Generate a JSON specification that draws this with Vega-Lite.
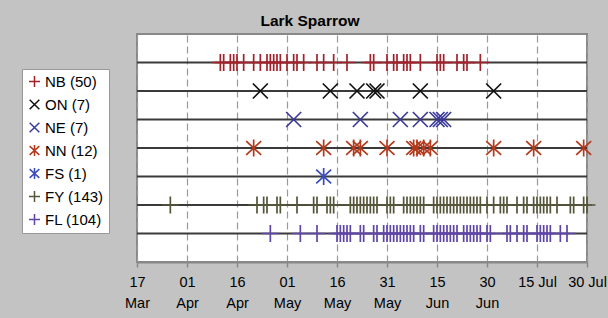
{
  "$schema": "https://vega.github.io/schema/vega-lite/v6.json",
  "width": 450,
  "height": 228,
  "autosize": {"type": "none"},
  "padding": {"left": 137, "top": 34, "right": 21, "bottom": 56},
  "background": "#c3c3c3",
  "title": {"text": "Lark Sparrow", "fontSize": 15.5, "fontWeight": "bold", "font": "Liberation Sans", "color": "black", "anchor": "middle", "dx": -52, "offset": 5},
  "config": {
    "font": "Liberation Sans",
    "view": {"stroke": "#888", "strokeWidth": 2, "fill": "white"}
  },
  "datasets": {
    "rows": [
      {"series": "NB (50)"}, {"series": "ON (7)"}, {"series": "NE (7)"}, {"series": "NN (12)"},
      {"series": "FS (1)"}, {"series": "FY (143)"}, {"series": "FL (104)"}
    ],
    "obs": [
      {"series": "NB (50)", "date": "2019-04-11"}, {"series": "NB (50)", "date": "2019-04-12"}, {"series": "NB (50)", "date": "2019-04-14"}, {"series": "NB (50)", "date": "2019-04-15"}, {"series": "NB (50)", "date": "2019-04-16"}, {"series": "NB (50)", "date": "2019-04-18"}, {"series": "NB (50)", "date": "2019-04-21"}, {"series": "NB (50)", "date": "2019-04-23"}, {"series": "NB (50)", "date": "2019-04-25"}, {"series": "NB (50)", "date": "2019-04-26"}, {"series": "NB (50)", "date": "2019-04-27"}, {"series": "NB (50)", "date": "2019-04-28"}, {"series": "NB (50)", "date": "2019-04-29"}, {"series": "NB (50)", "date": "2019-05-01"}, {"series": "NB (50)", "date": "2019-05-03"}, {"series": "NB (50)", "date": "2019-05-04"}, {"series": "NB (50)", "date": "2019-05-06"}, {"series": "NB (50)", "date": "2019-05-10"}, {"series": "NB (50)", "date": "2019-05-12"}, {"series": "NB (50)", "date": "2019-05-15"}, {"series": "NB (50)", "date": "2019-05-19"}, {"series": "NB (50)", "date": "2019-05-26"}, {"series": "NB (50)", "date": "2019-05-27"}, {"series": "NB (50)", "date": "2019-05-31"}, {"series": "NB (50)", "date": "2019-06-02"}, {"series": "NB (50)", "date": "2019-06-03"}, {"series": "NB (50)", "date": "2019-06-05"}, {"series": "NB (50)", "date": "2019-06-06"}, {"series": "NB (50)", "date": "2019-06-07"}, {"series": "NB (50)", "date": "2019-06-10"}, {"series": "NB (50)", "date": "2019-06-15"}, {"series": "NB (50)", "date": "2019-06-16"}, {"series": "NB (50)", "date": "2019-06-17"}, {"series": "NB (50)", "date": "2019-06-21"}, {"series": "NB (50)", "date": "2019-06-23"}, {"series": "NB (50)", "date": "2019-06-24"}, {"series": "NB (50)", "date": "2019-06-28"},
      {"series": "ON (7)", "date": "2019-04-23"}, {"series": "ON (7)", "date": "2019-05-14"}, {"series": "ON (7)", "date": "2019-05-22"}, {"series": "ON (7)", "date": "2019-05-27"}, {"series": "ON (7)", "date": "2019-05-28"}, {"series": "ON (7)", "date": "2019-06-10"}, {"series": "ON (7)", "date": "2019-07-02"},
      {"series": "NE (7)", "date": "2019-05-03"}, {"series": "NE (7)", "date": "2019-05-23"}, {"series": "NE (7)", "date": "2019-06-04"}, {"series": "NE (7)", "date": "2019-06-10"}, {"series": "NE (7)", "date": "2019-06-15"}, {"series": "NE (7)", "date": "2019-06-16"}, {"series": "NE (7)", "date": "2019-06-17"},
      {"series": "NN (12)", "date": "2019-04-21"}, {"series": "NN (12)", "date": "2019-05-12"}, {"series": "NN (12)", "date": "2019-05-21"}, {"series": "NN (12)", "date": "2019-05-23"}, {"series": "NN (12)", "date": "2019-05-31"}, {"series": "NN (12)", "date": "2019-06-08"}, {"series": "NN (12)", "date": "2019-06-09"}, {"series": "NN (12)", "date": "2019-06-11"}, {"series": "NN (12)", "date": "2019-06-13"}, {"series": "NN (12)", "date": "2019-07-02"}, {"series": "NN (12)", "date": "2019-07-14"}, {"series": "NN (12)", "date": "2019-07-29"},
      {"series": "FS (1)", "date": "2019-05-12"},
      {"series": "FY (143)", "date": "2019-03-27"}, {"series": "FY (143)", "date": "2019-04-22"}, {"series": "FY (143)", "date": "2019-04-24"}, {"series": "FY (143)", "date": "2019-04-25"}, {"series": "FY (143)", "date": "2019-04-28"}, {"series": "FY (143)", "date": "2019-04-29"}, {"series": "FY (143)", "date": "2019-05-04"}, {"series": "FY (143)", "date": "2019-05-09"}, {"series": "FY (143)", "date": "2019-05-10"}, {"series": "FY (143)", "date": "2019-05-13"}, {"series": "FY (143)", "date": "2019-05-14"}, {"series": "FY (143)", "date": "2019-05-15"}, {"series": "FY (143)", "date": "2019-05-20"}, {"series": "FY (143)", "date": "2019-05-21"}, {"series": "FY (143)", "date": "2019-05-22"}, {"series": "FY (143)", "date": "2019-05-23"}, {"series": "FY (143)", "date": "2019-05-24"}, {"series": "FY (143)", "date": "2019-05-25"}, {"series": "FY (143)", "date": "2019-05-26"}, {"series": "FY (143)", "date": "2019-05-27"}, {"series": "FY (143)", "date": "2019-05-28"}, {"series": "FY (143)", "date": "2019-05-31"}, {"series": "FY (143)", "date": "2019-06-01"}, {"series": "FY (143)", "date": "2019-06-02"}, {"series": "FY (143)", "date": "2019-06-05"}, {"series": "FY (143)", "date": "2019-06-06"}, {"series": "FY (143)", "date": "2019-06-07"}, {"series": "FY (143)", "date": "2019-06-08"}, {"series": "FY (143)", "date": "2019-06-09"}, {"series": "FY (143)", "date": "2019-06-10"}, {"series": "FY (143)", "date": "2019-06-11"}, {"series": "FY (143)", "date": "2019-06-14"}, {"series": "FY (143)", "date": "2019-06-15"}, {"series": "FY (143)", "date": "2019-06-16"}, {"series": "FY (143)", "date": "2019-06-17"}, {"series": "FY (143)", "date": "2019-06-18"}, {"series": "FY (143)", "date": "2019-06-19"}, {"series": "FY (143)", "date": "2019-06-20"}, {"series": "FY (143)", "date": "2019-06-21"}, {"series": "FY (143)", "date": "2019-06-22"}, {"series": "FY (143)", "date": "2019-06-23"}, {"series": "FY (143)", "date": "2019-06-24"}, {"series": "FY (143)", "date": "2019-06-25"}, {"series": "FY (143)", "date": "2019-06-26"}, {"series": "FY (143)", "date": "2019-06-27"}, {"series": "FY (143)", "date": "2019-06-28"}, {"series": "FY (143)", "date": "2019-06-30"}, {"series": "FY (143)", "date": "2019-07-02"}, {"series": "FY (143)", "date": "2019-07-04"}, {"series": "FY (143)", "date": "2019-07-05"}, {"series": "FY (143)", "date": "2019-07-06"}, {"series": "FY (143)", "date": "2019-07-09"}, {"series": "FY (143)", "date": "2019-07-11"}, {"series": "FY (143)", "date": "2019-07-12"}, {"series": "FY (143)", "date": "2019-07-14"}, {"series": "FY (143)", "date": "2019-07-15"}, {"series": "FY (143)", "date": "2019-07-16"}, {"series": "FY (143)", "date": "2019-07-17"}, {"series": "FY (143)", "date": "2019-07-18"}, {"series": "FY (143)", "date": "2019-07-19"}, {"series": "FY (143)", "date": "2019-07-21"}, {"series": "FY (143)", "date": "2019-07-25"}, {"series": "FY (143)", "date": "2019-07-26"}, {"series": "FY (143)", "date": "2019-07-29"}, {"series": "FY (143)", "date": "2019-07-30"},
      {"series": "FL (104)", "date": "2019-04-26"}, {"series": "FL (104)", "date": "2019-05-05"}, {"series": "FL (104)", "date": "2019-05-10"}, {"series": "FL (104)", "date": "2019-05-16"}, {"series": "FL (104)", "date": "2019-05-17"}, {"series": "FL (104)", "date": "2019-05-18"}, {"series": "FL (104)", "date": "2019-05-19"}, {"series": "FL (104)", "date": "2019-05-20"}, {"series": "FL (104)", "date": "2019-05-23"}, {"series": "FL (104)", "date": "2019-05-24"}, {"series": "FL (104)", "date": "2019-05-27"}, {"series": "FL (104)", "date": "2019-05-28"}, {"series": "FL (104)", "date": "2019-05-30"}, {"series": "FL (104)", "date": "2019-05-31"}, {"series": "FL (104)", "date": "2019-06-01"}, {"series": "FL (104)", "date": "2019-06-02"}, {"series": "FL (104)", "date": "2019-06-03"}, {"series": "FL (104)", "date": "2019-06-04"}, {"series": "FL (104)", "date": "2019-06-05"}, {"series": "FL (104)", "date": "2019-06-06"}, {"series": "FL (104)", "date": "2019-06-07"}, {"series": "FL (104)", "date": "2019-06-08"}, {"series": "FL (104)", "date": "2019-06-10"}, {"series": "FL (104)", "date": "2019-06-11"}, {"series": "FL (104)", "date": "2019-06-14"}, {"series": "FL (104)", "date": "2019-06-15"}, {"series": "FL (104)", "date": "2019-06-16"}, {"series": "FL (104)", "date": "2019-06-17"}, {"series": "FL (104)", "date": "2019-06-18"}, {"series": "FL (104)", "date": "2019-06-19"}, {"series": "FL (104)", "date": "2019-06-20"}, {"series": "FL (104)", "date": "2019-06-21"}, {"series": "FL (104)", "date": "2019-06-23"}, {"series": "FL (104)", "date": "2019-06-24"}, {"series": "FL (104)", "date": "2019-06-25"}, {"series": "FL (104)", "date": "2019-06-26"}, {"series": "FL (104)", "date": "2019-06-27"}, {"series": "FL (104)", "date": "2019-06-28"}, {"series": "FL (104)", "date": "2019-06-30"}, {"series": "FL (104)", "date": "2019-07-01"}, {"series": "FL (104)", "date": "2019-07-06"}, {"series": "FL (104)", "date": "2019-07-07"}, {"series": "FL (104)", "date": "2019-07-09"}, {"series": "FL (104)", "date": "2019-07-11"}, {"series": "FL (104)", "date": "2019-07-12"}, {"series": "FL (104)", "date": "2019-07-15"}, {"series": "FL (104)", "date": "2019-07-16"}, {"series": "FL (104)", "date": "2019-07-17"}, {"series": "FL (104)", "date": "2019-07-18"}, {"series": "FL (104)", "date": "2019-07-19"}, {"series": "FL (104)", "date": "2019-07-22"}, {"series": "FL (104)", "date": "2019-07-24"}
    ]
  },
  "layer": [
    {
      "data": {"name": "rows"},
      "mark": {"type": "rule", "color": "#3a3a3a", "strokeWidth": 2},
      "encoding": {
        "y": {"field": "series", "type": "nominal", "axis": null,
              "scale": {"type": "point", "padding": 1, "domain": ["NB (50)", "ON (7)", "NE (7)", "NN (12)", "FS (1)", "FY (143)", "FL (104)"]}}
      }
    },
    {
      "data": {"name": "obs"},
      "mark": {"type": "point", "filled": false, "strokeWidth": 1.7, "size": 289, "opacity": 1},
      "encoding": {
        "x": {"field": "date", "type": "temporal",
              "scale": {"type": "utc", "domain": [{"year": 2019, "month": 3, "date": 17, "utc": true}, {"year": 2019, "month": 7, "date": 30, "utc": true}]},
              "axis": {"title": null,
                       "values": [{"year": 2019, "month": 3, "date": 17, "utc": true}, {"year": 2019, "month": 4, "date": 1, "utc": true}, {"year": 2019, "month": 4, "date": 16, "utc": true}, {"year": 2019, "month": 5, "date": 1, "utc": true}, {"year": 2019, "month": 5, "date": 16, "utc": true}, {"year": 2019, "month": 5, "date": 31, "utc": true}, {"year": 2019, "month": 6, "date": 15, "utc": true}, {"year": 2019, "month": 6, "date": 30, "utc": true}, {"year": 2019, "month": 7, "date": 15, "utc": true}, {"year": 2019, "month": 7, "date": 30, "utc": true}],
                       "labelExpr": "utcFormat(datum.value, '%b') == 'Jul' ? utcFormat(datum.value, '%d %b') : [utcFormat(datum.value, '%d'), utcFormat(datum.value, '%b')]",
                       "labelFontSize": 14.5, "labelColor": "black", "labelFlush": false, "labelOverlap": false, "labelBound": false,
                       "labelPadding": 8, "labelLineHeight": 21,
                       "tickColor": "#888", "tickSize": 5, "tickWidth": 1.5,
                       "domainColor": "#888", "domainWidth": 2,
                       "grid": true, "gridColor": "#999", "gridDash": [7, 4], "gridWidth": 1.2}},
        "y": {"field": "series", "type": "nominal", "axis": null,
              "scale": {"type": "point", "padding": 1, "domain": ["NB (50)", "ON (7)", "NE (7)", "NN (12)", "FS (1)", "FY (143)", "FL (104)"]}},
        "color": {"field": "series", "type": "nominal",
                  "scale": {"domain": ["NB (50)", "ON (7)", "NE (7)", "NN (12)", "FS (1)", "FY (143)", "FL (104)"],
                            "range": ["#a3212b", "#111111", "#3a3a9c", "#b33a1c", "#3a4bbd", "#55553a", "#5f45a8"]},
                  "legend": {"title": null, "orient": "none", "legendX": -115, "legendY": 35, "direction": "vertical",
                             "fillColor": "white", "strokeColor": "#999", "padding": 5,
                             "labelFontSize": 15, "labelColor": "black", "labelOffset": 3, "rowPadding": 6,
                             "symbolSize": 121, "symbolStrokeWidth": 1.5}},
        "shape": {"field": "series", "type": "nominal",
                  "scale": {"domain": ["NB (50)", "ON (7)", "NE (7)", "NN (12)", "FS (1)", "FY (143)", "FL (104)"],
                            "range": ["M-1,0H1M0,-1V1", "M-0.88,-0.88L0.88,0.88M-0.88,0.88L0.88,-0.88", "M-0.88,-0.88L0.88,0.88M-0.88,0.88L0.88,-0.88", "M-0.88,-0.8L0.88,0.8M-0.88,0.8L0.88,-0.8M0,-1V1", "M-0.88,-0.8L0.88,0.8M-0.88,0.8L0.88,-0.8M0,-1V1", "M-1,0H1M0,-1V1", "M-1,0H1M0,-1V1"]}}
      }
    }
  ]
}
